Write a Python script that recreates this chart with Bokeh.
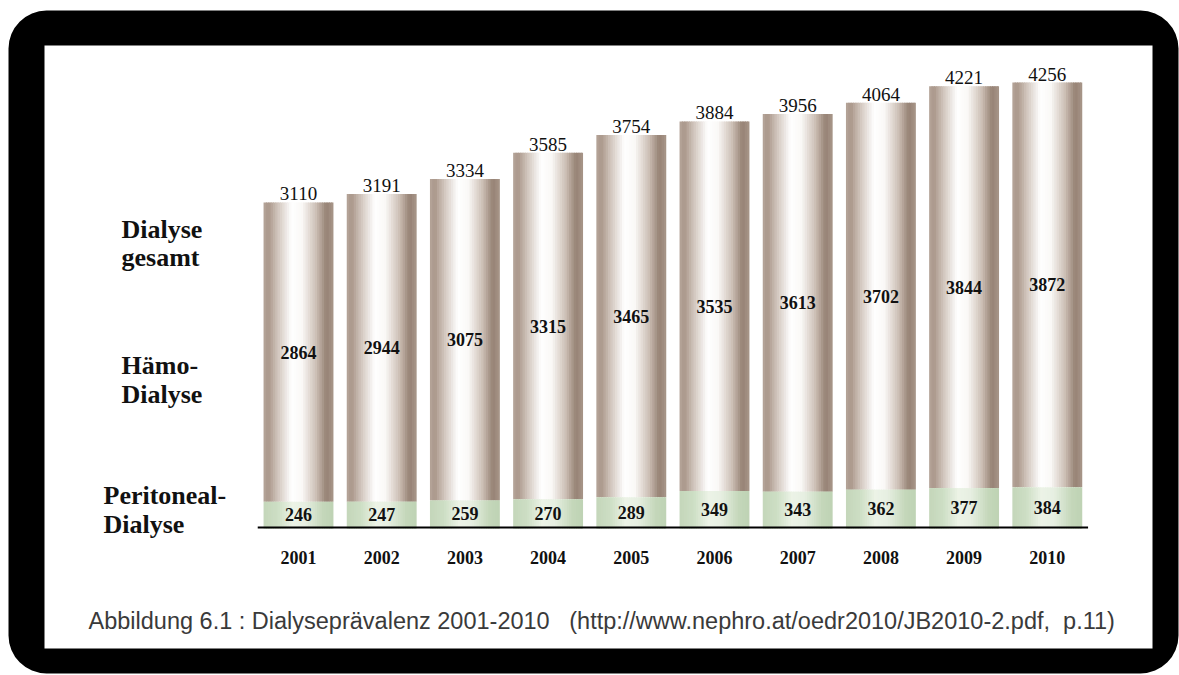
from bokeh.plotting import figure
from bokeh.models import Range1d, BoxAnnotation, Label, ColumnDataSource
from bokeh.embed import file_html
from bokeh.resources import INLINE
from bokeh.core.properties import value

# ---- data ----
years = [2001, 2002, 2003, 2004, 2005, 2006, 2007, 2008, 2009, 2010]
peritoneal = [246, 247, 259, 270, 289, 349, 343, 362, 377, 384]
haemo = [2864, 2944, 3075, 3315, 3465, 3535, 3613, 3702, 3844, 3872]
gesamt = [3110, 3191, 3334, 3585, 3754, 3884, 3956, 4064, 4221, 4256]
row_labels = [["Dialyse", "gesamt"], ["Hämo-", "Dialyse"], ["Peritoneal-", "Dialyse"]]
caption = ("Abbildung 6.1 : Dialyseprävalenz 2001-2010\u00a0\u00a0\u00a0(http://www.nephro.at/oedr2010/"
           "JB2010-2.pdf,\u00a0\u00a0p.11)")

W, H = 1179, 675
# scale: category spacing 83.2 px, first bar centre at x=298 px; 9.566 units per px, baseline at y=527 px
px_per_cat = 83.2
units_per_px = 9.566
x0 = years[0] - 298 / px_per_cat
x1 = years[0] + (W - 298) / px_per_cat
y1 = 527 * units_per_px
y0 = -(H - 527) * units_per_px

p = figure(width=W, height=H, output_backend="svg", toolbar_location=None,
           x_range=Range1d(x0, x1), y_range=Range1d(y0, y1), min_border=0)
p.axis.visible = False
p.grid.visible = False
p.outline_line_color = None
p.background_fill_color = "white"
p.border_fill_color = "white"

# frame
outer = BoxAnnotation(left=8, right=1178, top=H - 10, bottom=H - 673,
                      left_units="screen", right_units="screen", top_units="screen", bottom_units="screen",
                      fill_color="black", fill_alpha=1, line_color=None, border_radius=38, level="underlay")
inner = BoxAnnotation(left=44, right=1152, top=H - 45, bottom=H - 648,
                      left_units="screen", right_units="screen", top_units="screen", bottom_units="screen",
                      fill_color="white", fill_alpha=1, line_color=None, level="underlay")
p.add_layout(outer)
p.add_layout(inner)

bar_w = 0.84


def interp(profile, t):
    for (t0, c0), (t1, c1) in zip(profile[:-1], profile[1:]):
        if t0 <= t <= t1:
            f = (t - t0) / (t1 - t0) if t1 > t0 else 0
            c = [round(a + (b - a) * f) for a, b in zip(c0, c1)]
            return "#%02x%02x%02x" % tuple(c)
    c = profile[-1][1]
    return "#%02x%02x%02x" % tuple(c)


brown_profile = [(0.0, (182, 166, 154)), (0.07, (170, 151, 138)), (0.2, (208, 196, 187)),
                 (0.4, (255, 255, 255)), (0.55, (250, 248, 246)), (0.75, (205, 192, 182)),
                 (0.9, (150, 130, 116)), (1.0, (168, 150, 138))]
green_profile = [(0.0, (196, 214, 186)), (0.2, (205, 222, 196)), (0.42, (236, 243, 231)),
                 (0.6, (230, 239, 225)), (0.85, (196, 215, 186)), (1.0, (190, 210, 180))]

N = 30
L, R, T, B, C = [], [], [], [], []
gL, gR, gT, gB, gC = [], [], [], [], []
for yr, per, hae in zip(years, peritoneal, haemo):
    left = yr - bar_w / 2
    dw = bar_w / N
    for k in range(N):
        t = (k + 0.5) / N
        l = left + k * dw
        r = l + dw * (1.0 if k == N - 1 else 1.5)
        L.append(l); R.append(r); B.append(per); T.append(per + hae); C.append(interp(brown_profile, t))
        gL.append(l); gR.append(r); gB.append(-10); gT.append(per); gC.append(interp(green_profile, t))

p.quad(left=L, right=R, top=T, bottom=B, fill_color=C, line_color=None)
p.quad(left=gL, right=gR, top=gT, bottom=gB, fill_color=gC, line_color=None)

# baseline
p.segment(x0=[years[0] - 0.49], x1=[years[-1] + 0.49], y0=[0], y1=[0], line_color="black", line_width=2)

src = ColumnDataSource(dict(
    x=years,
    top=gesamt,
    mid=[pr + h / 2 for pr, h in zip(peritoneal, haemo)],
    low=[pr / 2 for pr in peritoneal],
    zero=[0] * len(years),
    t_top=[str(v) for v in gesamt],
    t_mid=[str(v) for v in haemo],
    t_low=[str(v) for v in peritoneal],
    t_year=[str(v) for v in years],
))
serif = value("Liberation Serif")
p.text(x="x", y="top", text="t_top", source=src, text_font=serif, text_font_size="19px",
       text_align="center", text_baseline="bottom", y_offset=-2, text_color="#111111")
p.text(x="x", y="mid", text="t_mid", source=src, text_font=serif, text_font_size="18px",
       text_font_style="bold", text_align="center", text_baseline="middle", text_color="#111111")
p.text(x="x", y="low", text="t_low", source=src, text_font=serif, text_font_size="18px",
       text_font_style="bold", text_align="center", text_baseline="middle", text_color="#111111")
p.text(x="x", y="zero", text="t_year", source=src, text_font=serif, text_font_size="18px",
       text_font_style="bold", text_align="center", text_baseline="middle", y_offset=30, text_color="#111111")

# row labels (screen positions: baseline pixel from top)
row_pos = [(121, 229, 257), (121, 365, 394), (103, 495, 524)]
for (lx, b1, b2), lines in zip(row_pos, row_labels):
    for txt, by in zip(lines, (b1, b2)):
        p.add_layout(Label(x=lx, y=H - by, x_units="screen", y_units="screen", text=txt,
                           text_font="Liberation Serif", text_font_size="26px", text_font_style="bold",
                           text_baseline="alphabetic", text_align="left", text_color="#111111"))

p.add_layout(Label(x=88, y=H - 620, x_units="screen", y_units="screen", text=caption,
                   text_font="Liberation Sans", text_font_size="23.5px",
                   text_baseline="alphabetic", text_align="left", text_color="#3a3a3a"))

open("out.html", "w").write(file_html(p, INLINE))
